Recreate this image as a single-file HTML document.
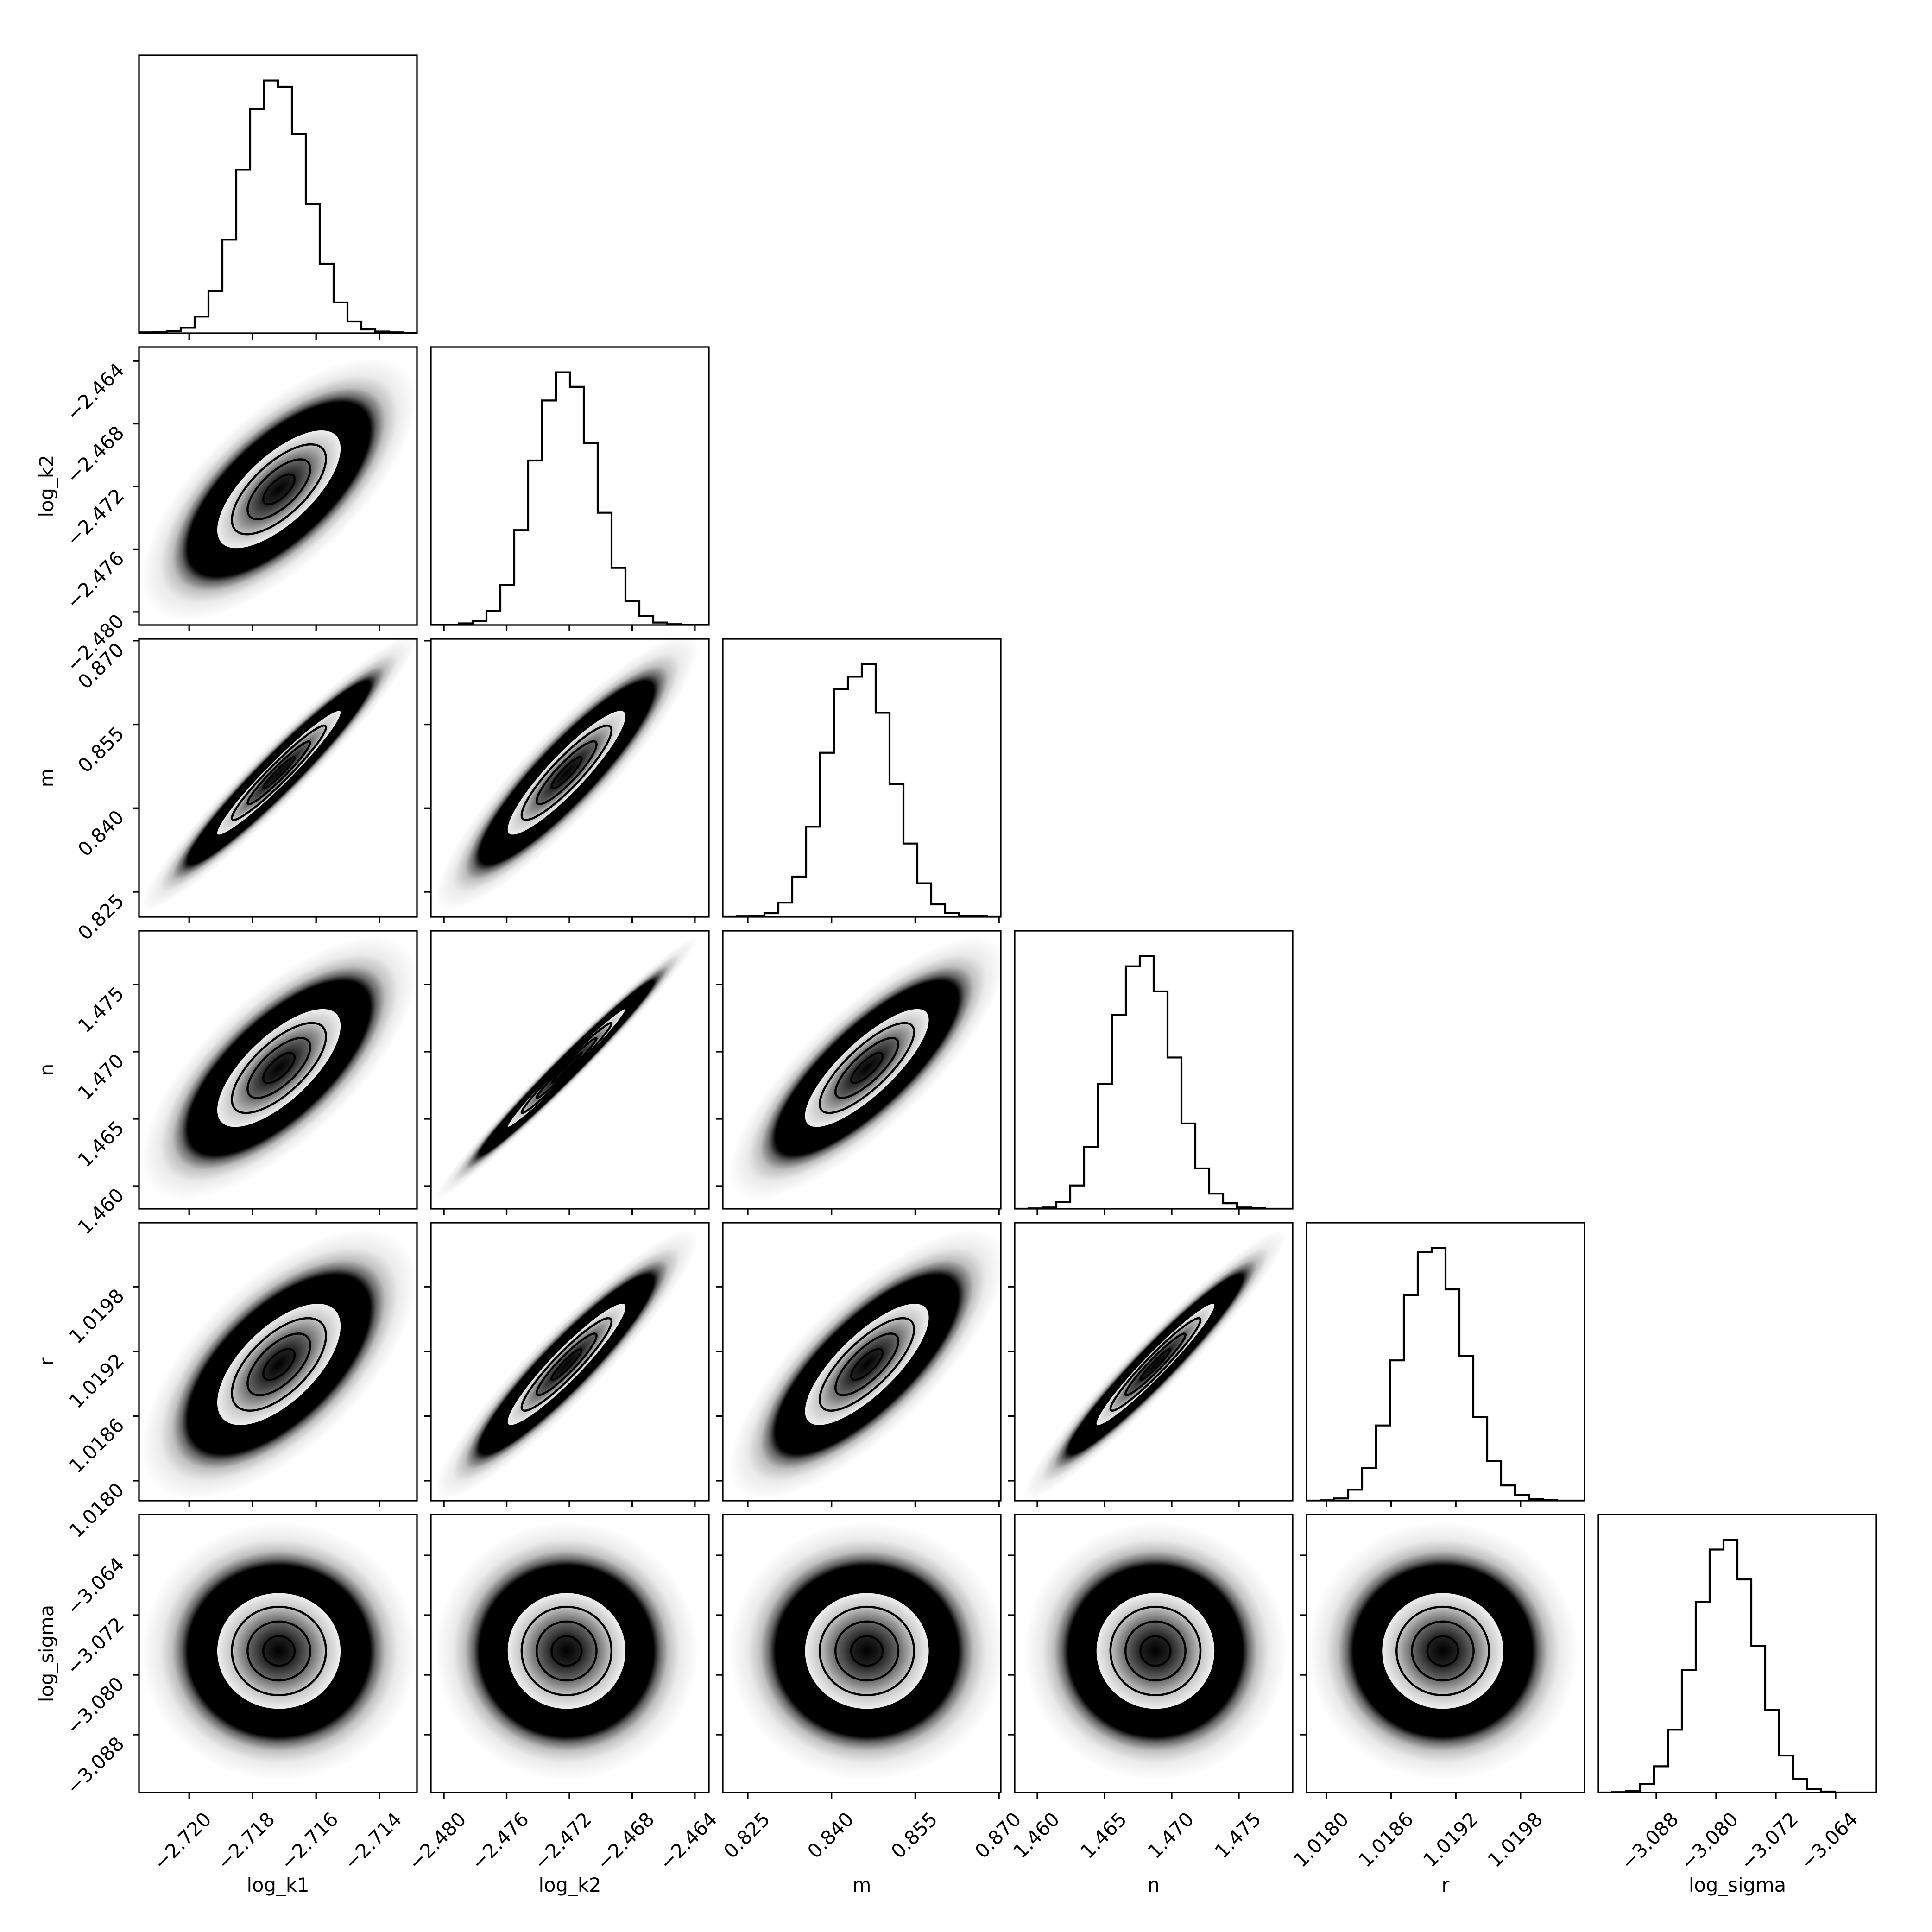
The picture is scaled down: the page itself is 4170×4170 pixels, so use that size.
<!DOCTYPE html>
<html>
<head>
<meta charset="utf-8">
<style>
html,body{margin:0;padding:0;background:#fff;}
svg{display:block;}
text{font-family:"DejaVu Sans","Liberation Sans",sans-serif;font-size:41.7px;fill:#000;}
</style>
</head>
<body>
<svg id="corner" width="4170" height="4170" viewBox="0 0 4170 4170" xmlns="http://www.w3.org/2000/svg">
<rect x="0" y="0" width="4170" height="4170" fill="#fff"/>
<defs>
<radialGradient id="halo" cx="0" cy="0" r="4.4" gradientUnits="userSpaceOnUse">
<stop offset="0" stop-color="#000" stop-opacity="1"/>
<stop offset="0.66" stop-color="#000" stop-opacity="1"/>
<stop offset="0.705" stop-color="#000" stop-opacity="0.6"/>
<stop offset="0.77" stop-color="#000" stop-opacity="0.25"/>
<stop offset="0.86" stop-color="#000" stop-opacity="0.08"/>
<stop offset="1" stop-color="#000" stop-opacity="0"/>
</radialGradient>
<radialGradient id="core" cx="0" cy="0" r="2" gradientUnits="userSpaceOnUse">
<stop offset="0" stop-color="#000"/>
<stop offset="0.25" stop-color="#222"/>
<stop offset="0.5" stop-color="#686868"/>
<stop offset="0.75" stop-color="#c4c4c4"/>
<stop offset="1" stop-color="#f2f2f2"/>
</radialGradient>
</defs>
</svg>
<script>
// ---- data ----
const paramNames = ["log_k1","log_k2","m","n","r","log_sigma"];
const axisLo = [-2.72158,-2.48083,0.82052,1.45831,1.017815,-3.09575];
const axisHi = [-2.71282,-2.46311,0.87032,1.47900,1.020394,-3.05854];
const means = [-2.71717,-2.47218,0.84634,1.46879,1.019079,-3.0768];
const sds = [0.00104,0.00201,0.00593,0.00235,0.000301,0.00415];
const ticks_log_k1 = [-2.720,-2.718,-2.716,-2.714];
const ticks_log_k2 = [-2.480,-2.476,-2.472,-2.468,-2.464];
const ticks_m = [0.825,0.840,0.855,0.870];
const ticks_n = [1.460,1.465,1.470,1.475];
const ticks_r = [1.0180,1.0186,1.0192,1.0198];
const ticks_log_sigma = [-3.088,-3.080,-3.072,-3.064];
const tickDecimals = [3,3,3,3,4,3];
const hist_log_k1 = [2,3,5,13,40,102,226,395,542,611,596,481,312,168,74,28,9,4,2,1];
const hist_log_k2 = [0,1,4,10,34,97,229,397,542,610,575,439,271,138,58,22,6,2,1,0];
const hist_m = [0,2,5,20,78,220,492,895,1243,1310,1378,1113,725,400,183,68,22,7,3,0];
const hist_n = [0,2,7,37,127,337,680,1057,1322,1378,1185,825,465,220,83,30,7,3,0,0];
const hist_r = [0,2,12,60,178,410,765,1120,1355,1378,1152,788,455,215,83,30,10,3,0,0];
const hist_log_sigma = [0,2,10,47,143,343,668,1040,1325,1378,1162,800,452,202,75,20,5,0,0,0];
const corr_log_k2 = [0.68];
const corr_m = [0.96,0.90];
const corr_n = [0.70,0.985,0.80];
const corr_r = [0.62,0.93,0.76,0.96];
const corr_log_sigma = [0,0,0,0,0];

const allTicks=[ticks_log_k1,ticks_log_k2,ticks_m,ticks_n,ticks_r,ticks_log_sigma];
const allHists=[hist_log_k1,hist_log_k2,hist_m,hist_n,hist_r,hist_log_sigma];
const allCorr=[[],corr_log_k2,corr_m,corr_n,corr_r,corr_log_sigma];

// ---- layout ----
const NS="http://www.w3.org/2000/svg";
const svg=document.getElementById('corner');
const X0=300,Y0=119,SZ=600,STEP=630,TICKLEN=14,LW=3.3;
function mk(tag,attrs,parent){const e=document.createElementNS(NS,tag);for(const k in attrs)e.setAttribute(k,attrs[k]);(parent||svg).appendChild(e);return e;}
function xScale(p,j){return X0+STEP*j+(p-axisLo[j])/(axisHi[j]-axisLo[j])*SZ;}
function yScale(p,i){return Y0+STEP*i+SZ-(p-axisLo[i])/(axisHi[i]-axisLo[i])*SZ;}
function fmt(v,d){const s=Math.abs(v).toFixed(d);return (v<0?"\u2212":"")+s;}

for(let i=0;i<6;i++){
  for(let j=0;j<=i;j++){
    const px=X0+STEP*j, py=Y0+STEP*i;
    const g=mk('g',{});
    
    
    const cid='clip'+i+'_'+j;
    const cp=mk('clipPath',{id:cid},g);
    mk('rect',{x:px,y:py,width:SZ,height:SZ},cp);
    const inner=mk('g',{'clip-path':'url(#'+cid+')'},g);
    if(i===j){
      const h=allHists[j]; const hmax=Math.max(...h)*1.1;
      const nb=h.length; const bw=(axisHi[j]-axisLo[j])/nb;
      let d='';
      for(let b=0;b<nb;b++){
        const xa=xScale(axisLo[j]+b*bw,j), xb=xScale(axisLo[j]+(b+1)*bw,j);
        const yy=py+SZ-h[b]/hmax*SZ;
        d+=(b===0?'M'+xa+','+(py+SZ)+' L'+xa+','+yy:' L'+xa+','+yy)+' L'+xb+','+yy;
      }
      d+=' L'+xScale(axisHi[j],j)+','+(py+SZ);
      const path=mk('path',{d:d,fill:'none',stroke:'#000','stroke-width':4.2},inner);
      
      
    } else {
      const rho=allCorr[i][j];
      const cx=xScale(means[j],j), cy=yScale(means[i],i);
      const sx=sds[j]*SZ/(axisHi[j]-axisLo[j]);
      const sy=sds[i]*SZ/(axisHi[i]-axisLo[i]);
      const k=0.95;
      const tg=mk('g',{transform:'matrix('+(sx*k)+','+(-sy*rho*k)+',0,'+(-sy*Math.sqrt(1-rho*rho)*k)+','+cx+','+cy+')'},inner);
      const halo=mk('circle',{cx:0,cy:0,r:4.4,fill:'url(#halo)'},tg);
      
      
      const core=mk('circle',{cx:0,cy:0,r:2,fill:'url(#core)'},tg);
      
      
      [0.5,1,1.5,2].forEach(function(lv){
        const c=mk('circle',{cx:0,cy:0,r:lv,fill:'none',stroke:'#000','stroke-width':4.5,'vector-effect':'non-scaling-stroke'},tg);
        
        
      });
    }
    const frame=mk('rect',{x:px,y:py,width:SZ,height:SZ,fill:'none',stroke:'#000','stroke-width':LW},g);
    
    
    allTicks[j].forEach(function(t){
      const tx=xScale(t,j);
      const tl=mk('line',{x1:tx,y1:py+SZ,x2:tx,y2:py+SZ+TICKLEN,stroke:'#000','stroke-width':LW},g);
      
      
      if(i===5){
        const lab=mk('text',{x:0,y:0,'text-anchor':'end','dominant-baseline':'central',transform:'translate('+(tx+40)+','+(py+SZ+50)+') rotate(-45)'},g);
        lab.textContent=fmt(t,tickDecimals[j]);
        
        
      }
    });
    if(i!==j){
      allTicks[i].forEach(function(t){
        const ty=yScale(t,i);
        const tl=mk('line',{x1:px,y1:ty,x2:px-TICKLEN,y2:ty,stroke:'#000','stroke-width':LW},g);
        
        
        if(j===0){
          const lab=mk('text',{x:0,y:0,'text-anchor':'end','dominant-baseline':'central',transform:'translate('+(px-40)+','+(ty+12)+') rotate(-45)'},g);
          lab.textContent=fmt(t,tickDecimals[i]);
          
          
        }
      });
    }
  }
}
for(let j=0;j<6;j++){
  const t=mk('text',{x:X0+STEP*j+SZ/2,y:4083,'text-anchor':'middle'});
  t.textContent=paramNames[j];
  
  
}
for(let i=1;i<6;i++){
  const cy=Y0+STEP*i+SZ/2;
  const t=mk('text',{x:0,y:0,'text-anchor':'middle',transform:'translate(115,'+cy+') rotate(-90)'});
  t.textContent=paramNames[i];
  
  
}
</script>
</body>
</html>
